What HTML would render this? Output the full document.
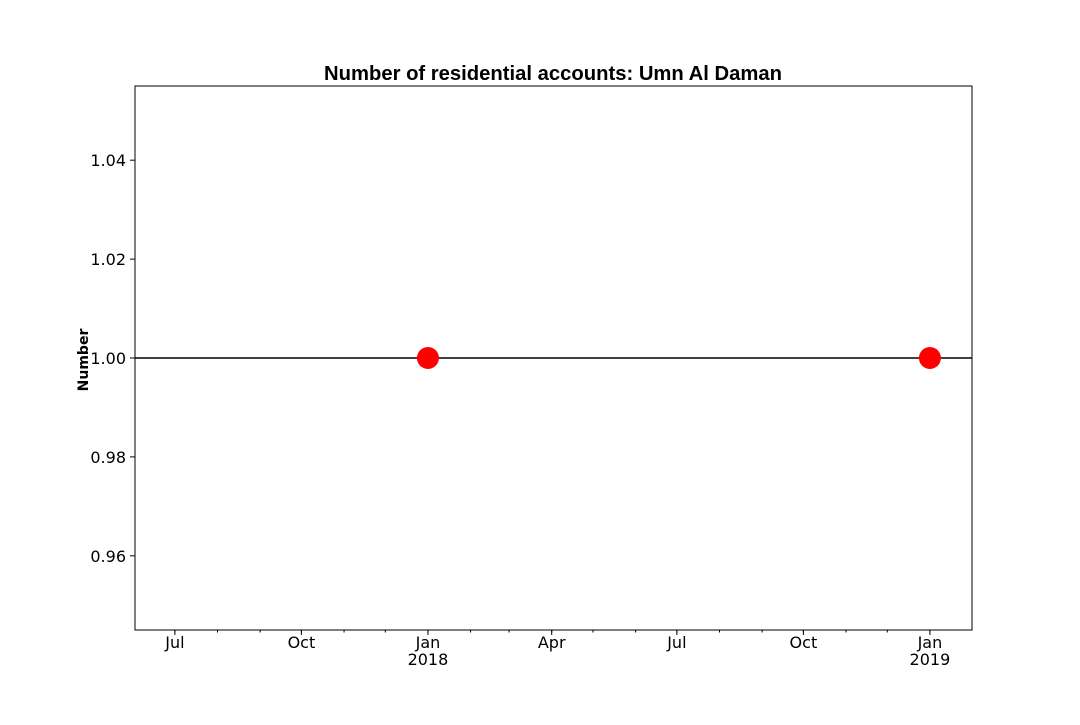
<!DOCTYPE html>
<html><head><meta charset="utf-8"><style>
body{margin:0;background:#fff;}
svg text{font-family:"DejaVu Sans","Liberation Sans",sans-serif;}
</style></head><body>
<svg id="chart" width="1080" height="720" xmlns="http://www.w3.org/2000/svg">
<rect width="1080" height="720" fill="#fff"/>
<text x="553" y="80" text-anchor="middle" font-size="20" font-weight="bold" textLength="458" lengthAdjust="spacingAndGlyphs" style="font-family:'Liberation Sans',sans-serif">Number of residential accounts: Umn Al Daman</text>
<text transform="translate(88,360) rotate(-90)" text-anchor="middle" font-size="14" font-weight="bold">Number</text>
<g id="plot"></g>
</svg>
<script>
const dates = ["2018-01-01","2019-01-01"];
const values = [1, 1];
const yTicks = [0.96, 0.98, 1.00, 1.02, 1.04];
const yTickLabels = ["0.96","0.98","1.00","1.02","1.04"];
const majorDates = ["2017-07-01","2017-10-01","2018-01-01","2018-04-01","2018-07-01","2018-10-01","2019-01-01"];
const majorLabels = ["Jul","Oct","Jan\n2018","Apr","Jul","Oct","Jan\n2019"];
const hlineValue = 1;

const L=135,R=972,T=86,B=630;
const day=86400000, t0=Date.parse("2018-01-01");
const xmin=-213, xmax=395.6, ymin=0.945, ymax=1.055;
const xs=d=>L+((Date.parse(d)-t0)/day - xmin)/(xmax-xmin)*(R-L);
const ys=v=>B-(v-ymin)/(ymax-ymin)*(B-T);
const NS="http://www.w3.org/2000/svg";
const g=document.getElementById('plot');
function mk(tag,attrs){const e=document.createElementNS(NS,tag);for(const k in attrs)e.setAttribute(k,attrs[k]);g.appendChild(e);return e;}

yTicks.forEach((v,i)=>{
  const y=ys(v);
  const t=mk('line',{x1:L-5,x2:L,y1:y,y2:y,stroke:'#000'});
  
  
  const l=mk('text',{x:L-9,y:y+6,'text-anchor':'end','font-size':16});
  l.textContent=yTickLabels[i];
  
  
});
for(let y=2017;y<=2019;y++)for(let m=0;m<12;m++){
  const d=new Date(Date.UTC(y,m,1)).toISOString().slice(0,10);
  const x=xs(d); if(x<L-0.5||x>R+0.5)continue;
  const t=mk('line',{x1:x,x2:x,y1:B,y2:B+2.5,stroke:'#000'});
  
  
}
majorDates.forEach((d,i)=>{
  const x=xs(d);
  const t=mk('line',{x1:x,x2:x,y1:B,y2:B+5,stroke:'#000'});
  
  
  majorLabels[i].split("\n").forEach((s,j)=>{
    const l=mk('text',{x:x,y:B+18+j*17,'text-anchor':'middle','font-size':16});
    l.textContent=s;
    
    
  });
});
const hl=mk('line',{x1:L,x2:R,y1:ys(hlineValue),y2:ys(hlineValue),stroke:'#000','stroke-width':1.5});


dates.forEach((d,i)=>{
  const c=mk('circle',{cx:xs(d),cy:ys(values[i]),r:11,fill:'#ff0000'});
  
  
});
const f=mk('rect',{x:L,y:T,width:R-L,height:B-T,fill:'none',stroke:'#000','stroke-width':1});


</script>
</body></html>
